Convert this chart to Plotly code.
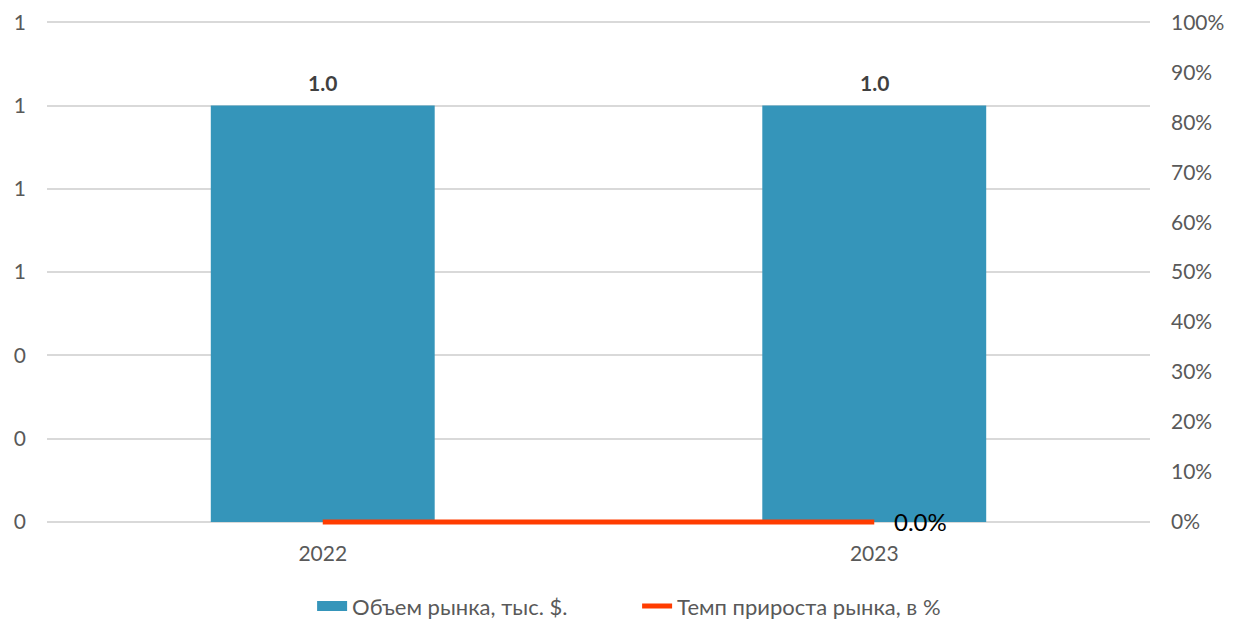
import plotly.graph_objects as go

years = ["2022", "2023"]
market_volume = [1.0, 1.0]
growth_rate = [0.0, 0.0]

left_ticks = [0, 0.2, 0.4, 0.6, 0.8, 1.0, 1.2]
right_ticks = [i / 10 for i in range(11)]

FONT = "Lato, 'Open Sans', sans-serif"
GREY = "#595959"
BLUE = "#3595BA"
RED = "#FF3C00"

# small negative pad so the growth line at 0 is not clipped in half
pad = 0.006

fig = go.Figure()

fig.add_trace(go.Bar(
    x=years, y=market_volume, name="Объем рынка, тыс. $.",
    marker=dict(color=BLUE, line=dict(width=0)),
    width=0.406, showlegend=False,
))
# legend proxy: wide swatch like the original
fig.add_trace(go.Scatter(
    x=[None], y=[None], mode="lines", name="Объем рынка, тыс. $.",
    line=dict(color=BLUE, width=14),
))

fig.add_trace(go.Scatter(
    x=years, y=growth_rate, name="Темп прироста рынка, в %",
    mode="lines", yaxis="y2",
    line=dict(color=RED, width=5),
))

# bar value labels (category index for annotation x)
for i, v in enumerate(market_volume):
    fig.add_annotation(x=i, y=v, text=f"<b>{v:.1f}</b>", showarrow=False,
                       yanchor="bottom", yshift=9,
                       font=dict(family=FONT, size=21, color="#404040"))

# growth label at last point
fig.add_annotation(x=len(years) - 1, y=growth_rate[-1], yref="y2",
                   text=f"{growth_rate[-1]:.1%}", showarrow=False,
                   xanchor="left", xshift=18, yshift=1,
                   font=dict(family=FONT, size=24, color="#000000"))

# page body adds 8px offset, so figure is a bit smaller than the window
fig.update_layout(
    width=1235, height=616,
    margin=dict(l=39, r=93, t=13, b=99),
    paper_bgcolor="white", plot_bgcolor="white",
    font=dict(family=FONT, size=21, color=GREY),
    showlegend=True,
    legend=dict(orientation="h", x=0.535, xanchor="center",
                yref="container", y=0.029, yanchor="middle",
                entrywidth=280,
                font=dict(size=22, color=GREY)),
    xaxis=dict(type="category", range=[-0.5, 1.5], showline=False, showgrid=False,
               ticks="", automargin=False, ticklabelstandoff=14,
               tickfont=dict(size=21, color=GREY)),
    yaxis=dict(range=[-pad * 1.2, 1.203], tickvals=left_ticks, tickformat=".0f",
               showgrid=True, gridcolor="#D9D9D9", gridwidth=1.5,
               zeroline=True, zerolinecolor="#D9D9D9", zerolinewidth=1.5,
               showline=False, ticks="", automargin=False, ticklabelstandoff=20,
               tickfont=dict(size=21, color=GREY)),
    yaxis2=dict(range=[-pad, 1.0025], tickvals=right_ticks, tickformat=".0%",
                overlaying="y", side="right", showgrid=False, zeroline=False,
                showline=False, ticks="", automargin=False, ticklabelstandoff=20,
                tickfont=dict(size=21, color=GREY)),
)

fig.write_html("out.html")
